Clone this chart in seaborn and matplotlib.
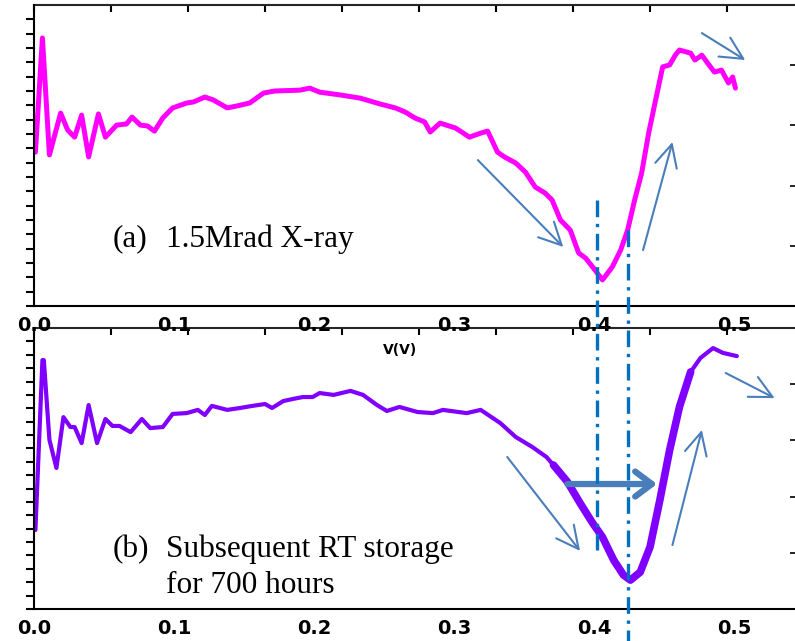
import numpy as np
import matplotlib
matplotlib.use('Agg')
import matplotlib.pyplot as plt
import matplotlib.transforms as mtransforms
from matplotlib.lines import Line2D
import seaborn as sns

# DADOS (unidades arbitrarias no eixo y)
v_a = [0.001, 0.006, 0.011, 0.019, 0.024, 0.029, 0.034, 0.039, 0.046, 0.051, 0.059, 0.066,
       0.070, 0.076, 0.081, 0.086, 0.092, 0.099, 0.109, 0.114, 0.122, 0.128, 0.138, 0.145,
       0.154, 0.164, 0.172, 0.190, 0.197, 0.204, 0.219, 0.233, 0.247, 0.258, 0.265, 0.272,
       0.279, 0.283, 0.290, 0.301, 0.311, 0.319, 0.324, 0.331, 0.336, 0.344, 0.351, 0.358,
       0.365, 0.370, 0.376, 0.383, 0.389, 0.394, 0.399, 0.406, 0.413, 0.419, 0.424, 0.429,
       0.434, 0.439, 0.444, 0.449, 0.454, 0.458, 0.461, 0.469, 0.472, 0.477, 0.481, 0.486,
       0.491, 0.496, 0.499, 0.501]
g_a = [5.37, 9.35, 5.27, 6.73, 6.14, 5.89, 6.66, 5.20, 6.70, 5.89, 6.31, 6.35,
       6.59, 6.31, 6.28, 6.10, 6.56, 6.91, 7.08, 7.12, 7.29, 7.19, 6.91, 6.98,
       7.08, 7.43, 7.50, 7.53, 7.60, 7.46, 7.36, 7.25, 7.05, 6.91, 6.77, 6.56,
       6.42, 6.07, 6.38, 6.21, 5.89, 6.03, 6.10, 5.37, 5.20, 4.99, 4.67, 4.15,
       3.94, 3.70, 3.00, 2.65, 1.85, 1.67, 1.36, 0.91, 1.36, 1.95, 2.65, 3.70,
       4.64, 6.03, 7.19, 8.34, 8.41, 8.75, 8.93, 8.82, 8.58, 8.75, 8.48, 8.16,
       8.23, 7.78, 7.99, 7.60]

v_b = [0.001, 0.006, 0.007, 0.011, 0.016, 0.021, 0.026, 0.029, 0.034, 0.039, 0.045, 0.051,
       0.056, 0.061, 0.069, 0.077, 0.083, 0.092, 0.099, 0.109, 0.117, 0.122, 0.127, 0.138,
       0.147, 0.156, 0.165, 0.170, 0.178, 0.185, 0.192, 0.199, 0.204, 0.214, 0.226, 0.235,
       0.245, 0.252, 0.261, 0.274, 0.285, 0.292, 0.309, 0.319, 0.333, 0.344, 0.356, 0.366,
       0.371, 0.381, 0.390, 0.399, 0.406, 0.414, 0.421, 0.426, 0.433, 0.440, 0.447, 0.454,
       0.461, 0.469, 0.476, 0.485, 0.492, 0.502]
g_b = [2.95, 9.30, 9.30, 6.32, 5.27, 7.17, 6.80, 6.80, 6.20, 7.62, 6.20, 7.10,
       6.84, 6.84, 6.61, 7.10, 6.76, 6.80, 7.29, 7.32, 7.44, 7.25, 7.59, 7.44,
       7.51, 7.59, 7.66, 7.51, 7.77, 7.85, 7.92, 7.92, 8.07, 8.00, 8.15, 8.00,
       7.62, 7.40, 7.55, 7.36, 7.32, 7.44, 7.32, 7.44, 6.95, 6.43, 6.05, 5.68,
       5.38, 4.75, 3.96, 3.21, 2.69, 1.83, 1.27, 1.08, 1.38, 2.32, 4.07, 5.94,
       7.55, 8.86, 9.38, 9.75, 9.57, 9.45]

x_ticks = [0.0, 0.1, 0.2, 0.3, 0.4, 0.5]
x_labels = ['0.0', '0.1', '0.2', '0.3', '0.4', '0.5']

# linhas verticais (V)
vline_v = [0.402, 0.424]

# setas: (inicio, fim) em (V, y)
setas_a = [((0.317, 5.09), (0.378, 2.06)),
           ((0.435, 1.95), (0.456, 5.72)),
           ((0.477, 9.52), (0.508, 8.58))]
setas_b = [((0.338, 5.68), (0.390, 2.17)),
           ((0.456, 2.39), (0.477, 6.69)),
           ((0.494, 8.82), (0.529, 7.88))]
seta_grossa = ((0.381, 4.67), (0.445, 4.67))

sns.set_style('white')
plt.rcParams['font.family'] = ['DejaVu Sans']
plt.rcParams['text.color'] = 'black'
plt.rcParams['xtick.color'] = 'black'
plt.rcParams['ytick.color'] = 'black'

fig = plt.figure(figsize=(7.95, 6.41), dpi=100)
ax_a = fig.add_axes([0.0428, 0.5226, 0.9686, 0.4696])
ax_b = fig.add_axes([0.0428, 0.0499, 0.9686, 0.4384])
ax_b.patch.set_alpha(0)
ax_a.set_zorder(2)
ax_a.patch.set_alpha(0)

estilo = dict(sort=False, estimator=None, solid_joinstyle='round', solid_capstyle='round')
sns.lineplot(x=v_a, y=g_a, ax=ax_a, color='#FF00FF', linewidth=3.6, **estilo)
sns.lineplot(x=v_b, y=g_b, ax=ax_b, color='#8000FF', linewidth=3.0, **estilo)
# trecho mais grosso na curva (b)
mask = [(v >= 0.37) and (v <= 0.47) for v in v_b]
sns.lineplot(x=[v for v, m in zip(v_b, mask) if m], y=[g for g, m in zip(g_b, mask) if m],
             ax=ax_b, color='#8000FF', linewidth=5.5, **estilo)

for ax in [ax_a, ax_b]:
    ax.set_xlim(0, 0.55)
    ax.set_ylim(0, 10.5)
    ax.set_xlabel('')
    ax.set_ylabel('')
    for s in ax.spines.values():
        s.set_linewidth(1.5)
        s.set_color('black')
    ax.spines['right'].set_visible(False)
    ax.spines['top'].set_visible(False)
    ax.set_xticks(x_ticks)
    ax.set_xticklabels(x_labels, fontsize=14, fontweight='heavy', color='black')
    ax.set_xticks(np.arange(0.05, 0.55, 0.1), minor=True)
    ax.set_yticks(np.arange(0, 10.6, 1.0))
    ax.set_yticks(np.arange(0.5, 10.5, 1.0), minor=True)
    ax.set_yticklabels([])
    ax.tick_params(axis='x', which='major', direction='out', length=4, width=1.5, pad=3)
    ax.tick_params(axis='x', which='minor', direction='out', length=4, width=1.2)
    ax.tick_params(axis='y', which='both', direction='out', left=True, length=6, width=1.5)

    sec_x = ax.secondary_xaxis('top')
    sec_x.set_xticks(np.arange(0, 0.56, 0.055))
    sec_x.tick_params(direction='in', length=5, width=1.5, labeltop=False)
    sec_x.spines['top'].set_linewidth(1.5)

    sec_y = ax.secondary_yaxis('right')
    sec_y.set_yticks([2.1, 4.2, 6.3, 8.4])
    sec_y.tick_params(direction='in', length=10, width=1.2, labelright=False)
    sec_y.spines['right'].set_linewidth(1.5)

# setas
cor_seta = '#4A7EBB'
for ax, setas in [(ax_a, setas_a), (ax_b, setas_b)]:
    for ini, fim in setas:
        ax.annotate('', xy=fim, xytext=ini,
                    arrowprops=dict(arrowstyle='->,head_length=0.8,head_width=0.4',
                                    color=cor_seta, lw=1.5, mutation_scale=20,
                                    shrinkA=0, shrinkB=0))
ax_b.annotate('', xy=seta_grossa[1], xytext=seta_grossa[0],
              arrowprops=dict(arrowstyle='->,head_length=0.6,head_width=0.45',
                              color=cor_seta, lw=4.5, mutation_scale=20,
                              shrinkA=0, shrinkB=0))

# linhas tracejadas verticais atravessando os dois paineis
trans = mtransforms.blended_transform_factory(ax_a.transData, fig.transFigure)
vline_y = [(1 - 200 / 641, 1 - 555 / 641), (1 - 230 / 641, 0.0)]
for v, (y0, y1) in zip(vline_v, vline_y):
    fig.add_artist(Line2D([v, v], [y0, y1], transform=trans, color='#0070C0',
                          linewidth=2.4, linestyle=(0, (5, 2, 1, 2)), zorder=5))

# textos
serif = ['Liberation Serif', 'DejaVu Serif']
ax_a.text(0.1026, 0.222, '(a)', transform=ax_a.transAxes, family=serif, fontsize=22.5, va='center')
ax_a.text(0.171, 0.222, '1.5Mrad X-ray', transform=ax_a.transAxes, family=serif, fontsize=22.5, va='center')
ax_b.text(0.1026, 0.212, '(b)', transform=ax_b.transAxes, family=serif, fontsize=22.5, va='center')
ax_b.text(0.171, 0.212, 'Subsequent RT storage', transform=ax_b.transAxes, family=serif, fontsize=22.5, va='center')
ax_b.text(0.171, 0.082, 'for 700 hours', transform=ax_b.transAxes, family=serif, fontsize=22.5, va='center')

fig.text(400 / 795, 1 - 350 / 641, 'V(V)', fontsize=10, fontweight='bold', ha='center', va='center')

plt.savefig('out.png', dpi=100)
